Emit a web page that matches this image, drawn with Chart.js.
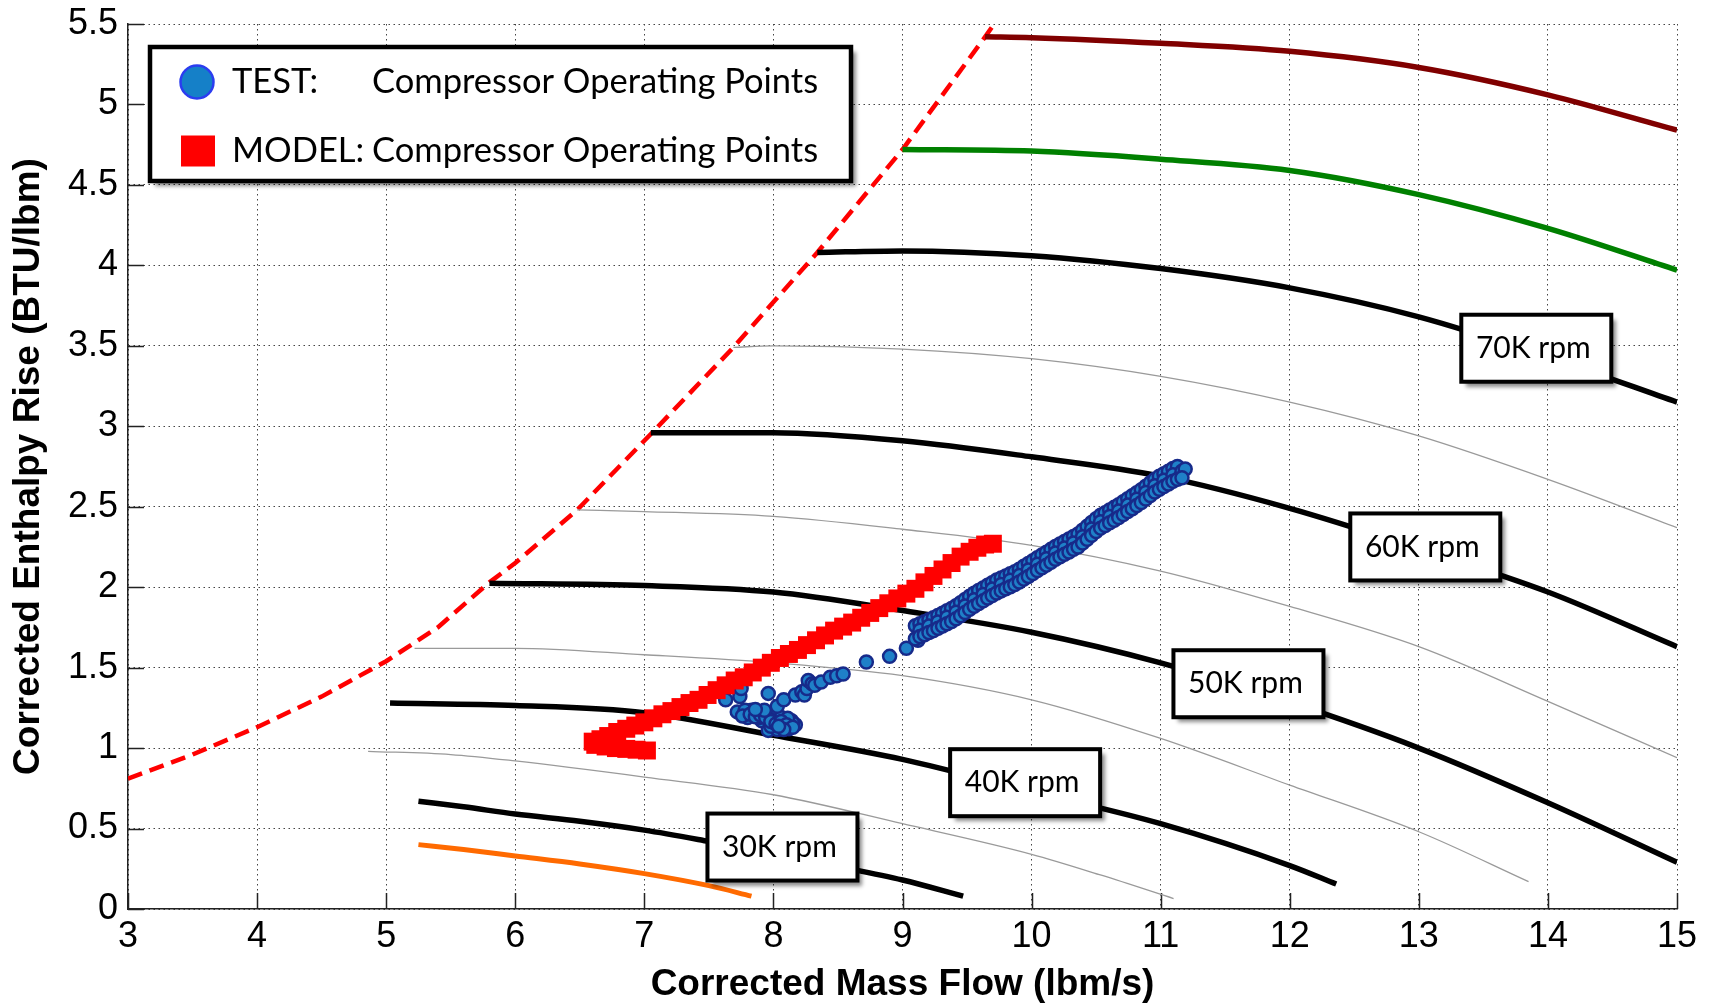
<!DOCTYPE html>
<html>
<head>
<meta charset="utf-8">
<script src="https://cdn.jsdelivr.net/npm/chart.js@4.4.1/dist/chart.umd.min.js"></script>
<style>
  html, body { margin: 0; padding: 0; background: #ffffff; }
  canvas { display: block; }
</style>
</head>
<body>
<canvas id="map" width="1713" height="1003"></canvas>
<script>
// ---- axis ticks ----
const xTicks = [3, 4, 5, 6, 7, 8, 9, 10, 11, 12, 13, 14, 15];
const xTickLabels = ['3', '4', '5', '6', '7', '8', '9', '10', '11', '12', '13', '14', '15'];
const yTicks = [0, 0.5, 1, 1.5, 2, 2.5, 3, 3.5, 4, 4.5, 5, 5.5];
const yTickLabels = ['0', '0.5', '1', '1.5', '2', '2.5', '3', '3.5', '4', '4.5', '5', '5.5'];

// ---- surge line [mass flow, enthalpy rise] ----
const surge = [[3.0, 0.81], [3.5, 0.96], [4.0, 1.13], [4.5, 1.32], [5.0, 1.54], [5.4, 1.75], [5.8, 2.03],
  [6.0, 2.15], [6.48, 2.48], [7.06, 2.96], [7.69, 3.49], [8.34, 4.08], [9.0, 4.72], [9.64, 5.42], [9.71, 5.5]];

// ---- constant speed lines [mass flow, enthalpy rise] ----
const spd25 = [[5.25, 0.40], [5.6, 0.37], [6.0, 0.33], [6.5, 0.28], [7.0, 0.22], [7.5, 0.145], [7.83, 0.08]];
const spd30 = [[5.25, 0.67], [5.6, 0.635], [6.0, 0.59], [6.5, 0.545], [7.0, 0.49], [7.5, 0.42], [8.0, 0.345],
  [8.5, 0.265], [9.0, 0.18], [9.47, 0.08]];
const spd35 = [[4.86, 0.98], [5.5, 0.96], [6.0, 0.92], [7.0, 0.82], [8.0, 0.71], [9.0, 0.53], [10.0, 0.34],
  [10.54, 0.21], [11.1, 0.065]];
const spd40 = [[5.03, 1.28], [6.0, 1.265], [7.0, 1.22], [8.0, 1.08], [9.0, 0.93], [10.0, 0.73], [11.0, 0.53],
  [12.0, 0.27], [12.36, 0.155]];
const spd45 = [[5.22, 1.62], [6.0, 1.62], [7.0, 1.58], [8.0, 1.53], [9.0, 1.45], [10.0, 1.30], [11.0, 1.06],
  [12.0, 0.77], [13.0, 0.48], [13.85, 0.17]];
const spd50 = [[5.8, 2.025], [7.0, 2.01], [8.0, 1.97], [9.0, 1.855], [10.0, 1.72], [11.0, 1.53], [12.0, 1.285],
  [13.0, 1.0], [14.0, 0.66], [15.0, 0.29]];
const spd55 = [[6.48, 2.48], [7.0, 2.47], [8.0, 2.44], [9.0, 2.36], [10.0, 2.26], [11.0, 2.10], [12.0, 1.88],
  [13.0, 1.63], [14.0, 1.29], [15.0, 0.94]];
const spd60 = [[7.05, 2.96], [8.0, 2.96], [9.0, 2.91], [10.0, 2.81], [11.0, 2.69], [12.0, 2.49], [13.0, 2.24],
  [14.0, 1.97], [15.0, 1.63]];
const spd65 = [[7.69, 3.49], [8.0, 3.50], [9.0, 3.48], [10.0, 3.42], [11.0, 3.31], [12.0, 3.15], [13.0, 2.94],
  [14.0, 2.67], [15.0, 2.37]];
const spd70 = [[8.34, 4.08], [9.0, 4.09], [10.0, 4.06], [11.0, 3.98], [12.0, 3.86], [13.0, 3.68], [14.0, 3.43],
  [15.0, 3.15]];
const spd75 = [[9.0, 4.72], [10.0, 4.71], [11.0, 4.66], [12.0, 4.59], [13.0, 4.44], [14.0, 4.23], [15.0, 3.97]];
const spd80 = [[9.64, 5.42], [10.0, 5.415], [11.0, 5.38], [12.0, 5.33], [13.0, 5.23], [14.0, 5.06], [15.0, 4.84]];

// ---- speed line tags: text and box centre [mass flow, enthalpy rise] ----
const speedTags = ['30K rpm', '40K rpm', '50K rpm', '60K rpm', '70K rpm'];
const speedTagAt = [[8.07, 0.385], [9.95, 0.785], [11.68, 1.40], [13.05, 2.25], [13.91, 3.485]];

// ---- measured operating points ----
const testLowFlow = [
  [7.75, 1.215], [7.80, 1.19], [7.83, 1.235], [7.87, 1.21], [7.91, 1.22], [7.91, 1.17], [7.95, 1.20], [7.99, 1.20],
  [8.01, 1.13], [7.96, 1.11], [8.03, 1.17], [8.06, 1.19], [8.09, 1.13], [8.10, 1.16], [8.14, 1.17], [8.17, 1.145],
  [8.13, 1.14], [8.05, 1.15], [7.72, 1.225], [7.78, 1.235], [7.85, 1.225], [7.89, 1.19], [7.93, 1.21], [7.97, 1.18],
  [8.00, 1.16], [8.07, 1.14], [8.12, 1.12], [8.15, 1.155], [8.03, 1.115], [7.98, 1.135], [8.11, 1.185],
  [7.76, 1.20], [7.82, 1.21], [7.86, 1.195], [7.90, 1.205], [7.94, 1.19], [7.98, 1.165], [8.02, 1.15], [8.06, 1.165],
  [8.10, 1.145], [8.15, 1.13], [8.08, 1.115], [8.04, 1.135], [7.93, 1.235], [7.86, 1.24]
];
const testTransition = [
  [7.63, 1.30], [7.74, 1.32], [7.75, 1.37], [7.96, 1.34], [8.03, 1.26], [8.08, 1.30], [8.17, 1.33], [8.22, 1.35],
  [8.24, 1.33], [8.26, 1.37], [8.27, 1.42], [8.30, 1.40], [8.32, 1.39], [8.37, 1.41], [8.44, 1.44], [8.49, 1.45],
  [8.54, 1.46], [8.72, 1.535], [8.90, 1.57], [9.03, 1.62], [9.12, 1.67]
];
const testHighFlow = [
  [9.100, 1.760], [9.135, 1.773], [9.170, 1.785], [9.205, 1.798], [9.240, 1.810], [9.275, 1.824], [9.310, 1.838],
  [9.345, 1.853], [9.380, 1.867], [9.415, 1.884], [9.450, 1.903], [9.485, 1.923], [9.520, 1.943], [9.555, 1.962],
  [9.590, 1.979], [9.625, 1.995], [9.660, 2.012], [9.695, 2.028], [9.730, 2.044], [9.765, 2.057], [9.800, 2.070],
  [9.835, 2.083], [9.870, 2.096], [9.905, 2.112], [9.940, 2.130], [9.975, 2.147], [10.010, 2.165], [10.045, 2.183],
  [10.080, 2.200], [10.115, 2.217], [10.150, 2.235], [10.185, 2.253], [10.220, 2.269], [10.255, 2.284],
  [10.290, 2.299], [10.325, 2.315], [10.360, 2.330], [10.395, 2.354], [10.430, 2.378], [10.465, 2.402],
  [10.500, 2.426], [10.535, 2.447], [10.570, 2.463], [10.605, 2.480], [10.640, 2.496], [10.675, 2.513],
  [10.710, 2.531], [10.745, 2.550], [10.780, 2.568], [10.815, 2.587], [10.850, 2.606], [10.885, 2.628],
  [10.920, 2.649], [10.955, 2.671], [10.990, 2.689], [11.025, 2.705], [11.060, 2.721], [11.095, 2.738],
  [11.130, 2.750],
  [9.135, 1.733], [9.205, 1.758], [9.275, 1.784], [9.345, 1.813], [9.415, 1.844], [9.485, 1.883], [9.555, 1.922],
  [9.625, 1.955], [9.695, 1.988], [9.765, 2.017], [9.835, 2.043], [9.905, 2.072], [9.975, 2.107], [10.045, 2.143],
  [10.115, 2.177], [10.185, 2.213], [10.255, 2.244], [10.325, 2.275], [10.395, 2.314], [10.465, 2.362],
  [10.535, 2.407], [10.605, 2.440], [10.675, 2.473], [10.745, 2.510], [10.815, 2.547], [10.885, 2.588],
  [10.955, 2.631], [11.025, 2.665], [11.095, 2.698], [11.165, 2.720], [11.190, 2.735],
  [9.100, 1.680], [9.135, 1.693], [9.170, 1.705], [9.205, 1.718], [9.240, 1.730], [9.275, 1.744], [9.310, 1.758],
  [9.345, 1.773], [9.380, 1.787], [9.415, 1.804], [9.450, 1.823], [9.485, 1.843], [9.520, 1.863], [9.555, 1.882],
  [9.590, 1.899], [9.625, 1.915], [9.660, 1.932], [9.695, 1.948], [9.730, 1.964], [9.765, 1.977], [9.800, 1.990],
  [9.835, 2.003], [9.870, 2.016], [9.905, 2.032], [9.940, 2.050], [9.975, 2.067], [10.010, 2.085], [10.045, 2.103],
  [10.080, 2.120], [10.115, 2.137], [10.150, 2.155], [10.185, 2.173], [10.220, 2.189], [10.255, 2.204],
  [10.290, 2.219], [10.325, 2.235], [10.360, 2.250], [10.395, 2.274], [10.430, 2.298], [10.465, 2.322],
  [10.500, 2.346], [10.535, 2.367], [10.570, 2.383], [10.605, 2.400], [10.640, 2.416], [10.675, 2.433],
  [10.710, 2.451], [10.745, 2.470], [10.780, 2.488], [10.815, 2.507], [10.850, 2.526], [10.885, 2.548],
  [10.920, 2.569], [10.955, 2.591], [10.990, 2.609], [11.025, 2.625], [11.060, 2.641], [11.095, 2.658],
  [11.130, 2.670], [11.165, 2.680]
];

// ---- model operating points ----
const modelPoints = [
  [6.62, 1.02], [6.70, 1.01], [6.78, 1.00], [6.86, 0.995], [6.94, 0.99], [7.02, 0.985],
  [6.60, 1.040], [6.66, 1.055], [6.72, 1.075], [6.79, 1.100], [6.86, 1.120], [6.93, 1.140], [7.00, 1.160],
  [7.07, 1.185], [7.14, 1.210], [7.21, 1.230], [7.28, 1.255], [7.35, 1.280], [7.42, 1.300], [7.49, 1.330],
  [7.56, 1.360], [7.63, 1.390], [7.70, 1.420], [7.77, 1.440], [7.84, 1.470], [7.91, 1.500], [7.98, 1.530],
  [8.05, 1.560], [8.12, 1.585], [8.19, 1.610], [8.26, 1.640], [8.33, 1.670], [8.40, 1.700], [8.47, 1.730],
  [8.54, 1.755], [8.61, 1.780], [8.68, 1.810], [8.75, 1.840], [8.82, 1.870], [8.89, 1.900], [8.96, 1.930],
  [9.03, 1.960], [9.10, 1.990], [9.17, 2.030], [9.24, 2.070], [9.31, 2.110], [9.38, 2.150], [9.45, 2.190],
  [9.52, 2.220], [9.58, 2.245], [9.64, 2.265], [9.70, 2.270]
];

// ---- legend rows ----
const legendTags = ['TEST:', 'MODEL:'];
const legendText = ['Compressor Operating Points', 'Compressor Operating Points'];

const toXY = arr => arr.map(([x, y]) => ({ x, y }));
const testPoints = [...testLowFlow, ...testTransition, ...testHighFlow];

const SANS = 'Liberation Sans, Arial, Helvetica, sans-serif';
const X_TICK_FONT = { family: SANS, size: 36, lineHeight: 1.2 };
const Y_TICK_FONT = { family: SANS, size: 36, lineHeight: 0.75 };
const TITLE_FONT = { family: SANS, size: 37, weight: 'bold', lineHeight: 1.0 };
const LABEL_FAMILY = 'Lato, "Open Sans", sans-serif';

function speedLine(points, color, width) {
  return {
    data: toXY(points), showLine: true, borderColor: color, borderWidth: width,
    pointRadius: 0, cubicInterpolationMode: 'monotone', fill: false, order: 3
  };
}

// inward tick marks on the left and bottom axes
const inwardTicks = {
  id: 'inwardTicks',
  beforeDatasetsDraw(chart) {
    const { ctx, chartArea: a, scales: { x, y } } = chart;
    ctx.save();
    ctx.strokeStyle = '#222';
    ctx.lineWidth = 1.5;
    ctx.beginPath();
    xTicks.forEach(v => {
      const px = Math.round(x.getPixelForValue(v)) + 0.5;
      ctx.moveTo(px, a.bottom);
      ctx.lineTo(px, a.bottom - 16);
    });
    yTicks.forEach(v => {
      const py = Math.round(y.getPixelForValue(v)) + 0.5;
      ctx.moveTo(a.left, py);
      ctx.lineTo(a.left + 16, py);
    });
    ctx.stroke();
    ctx.restore();
  }
};

function shadowedBox(ctx, l, t, w, h, border) {
  ctx.save();
  ctx.shadowColor = 'rgba(0,0,0,0.45)';
  ctx.shadowBlur = 4;
  ctx.shadowOffsetX = 5;
  ctx.shadowOffsetY = 5;
  ctx.fillStyle = '#ffffff';
  ctx.fillRect(l, t, w, h);
  ctx.restore();
  ctx.save();
  ctx.lineWidth = border;
  ctx.strokeStyle = '#000000';
  ctx.strokeRect(l, t, w, h);
  ctx.restore();
}

// boxed speed tags placed on their lines
const speedTagBoxes = {
  id: 'speedTagBoxes',
  afterDatasetsDraw(chart) {
    const { ctx, scales: { x, y } } = chart;
    const w = 150, h = 67;
    speedTags.forEach((text, i) => {
      const cx = x.getPixelForValue(speedTagAt[i][0]);
      const cy = y.getPixelForValue(speedTagAt[i][1]);
      shadowedBox(ctx, cx - w / 2, cy - h / 2, w, h, 4);
      ctx.save();
      ctx.fillStyle = '#000';
      ctx.font = '30px ' + LABEL_FAMILY;
      ctx.textAlign = 'center';
      ctx.textBaseline = 'middle';
      ctx.fillText(text, cx - 3, cy);
      ctx.restore();
    });
  }
};

// boxed legend in the upper left corner of the plot
const opLegend = {
  id: 'opLegend',
  afterDatasetsDraw(chart) {
    const { ctx, chartArea: a } = chart;
    const L = a.left + 22, T = a.top + 23, W = 701, H = 134;
    shadowedBox(ctx, L, T, W, H, 4.5);
    const rowY = [T + 35, T + 104];
    ctx.save();
    // TEST marker
    ctx.beginPath();
    ctx.arc(L + 47, rowY[0], 16.5, 0, Math.PI * 2);
    ctx.fillStyle = '#1580c8';
    ctx.fill();
    ctx.lineWidth = 2.5;
    ctx.strokeStyle = '#2b3df0';
    ctx.stroke();
    // MODEL marker
    ctx.fillStyle = '#ff0000';
    ctx.fillRect(L + 31, rowY[1] - 15.5, 34, 31);
    ctx.fillStyle = '#000';
    ctx.font = '34.5px ' + LABEL_FAMILY;
    ctx.textBaseline = 'middle';
    ctx.textAlign = 'left';
    legendTags.forEach((tag, i) => {
      ctx.fillText(tag, L + 82, rowY[i]);
      ctx.fillText(legendText[i], L + 222, rowY[i]);
    });
    ctx.restore();
  }
};

new Chart(document.getElementById('map'), {
  type: 'scatter',
  data: {
    datasets: [
      speedLine(spd25, '#ff6a00', 5),
      speedLine(spd30, '#000000', 5.5),
      speedLine(spd35, '#9a9a9a', 1.3),
      speedLine(spd40, '#000000', 5.5),
      speedLine(spd45, '#9a9a9a', 1.3),
      speedLine(spd50, '#000000', 5.5),
      speedLine(spd55, '#9a9a9a', 1.3),
      speedLine(spd60, '#000000', 5.5),
      speedLine(spd65, '#9a9a9a', 1.3),
      speedLine(spd70, '#000000', 5.5),
      speedLine(spd75, '#008000', 5.5),
      speedLine(spd80, '#800000', 5.5),
      {
        data: toXY(surge), showLine: true, borderColor: '#ff0000', borderWidth: 4.5,
        borderDash: [15, 8], pointRadius: 0, tension: 0, order: 3
      },
      {
        label: 'TEST', data: toXY(testPoints), showLine: false, pointStyle: 'circle', pointRadius: 6.5,
        backgroundColor: '#1f80c8', borderColor: '#172a8a', borderWidth: 2.5, order: 2
      },
      {
        label: 'MODEL', data: toXY(modelPoints), showLine: false, pointStyle: 'rect', pointRadius: 12.7,
        backgroundColor: '#ff0000', borderWidth: 0, order: 1
      }
    ]
  },
  options: {
    responsive: false,
    animation: false,
    devicePixelRatio: 1,
    events: [],
    layout: { padding: { top: 24, right: 36, left: 0, bottom: 0 } },
    plugins: { legend: { display: false }, tooltip: { enabled: false } },
    scales: {
      x: {
        type: 'linear', min: 3, max: 15,
        afterBuildTicks: s => { s.ticks = xTicks.map(v => ({ value: v })); },
        afterFit: s => { s.height = 94; },
        ticks: {
          autoSkip: false, maxRotation: 0, padding: 6, color: '#000', font: X_TICK_FONT,
          callback: (v) => xTickLabels[xTicks.indexOf(v)]
        },
        grid: { color: '#444', lineWidth: 1, drawTicks: false },
        border: { display: true, color: '#222', width: 1.5, dash: [1.5, 3.5] },
        title: {
          display: true, text: 'Corrected Mass Flow (lbm/s)', color: '#000',
          font: TITLE_FONT, padding: { top: 0, bottom: 0 }
        }
      },
      y: {
        type: 'linear', min: 0, max: 5.5,
        afterBuildTicks: s => { s.ticks = yTicks.map(v => ({ value: v })); },
        afterFit: s => { s.width = 128; },
        ticks: {
          autoSkip: false, padding: 10, color: '#000', font: Y_TICK_FONT,
          callback: (v) => yTickLabels[yTicks.indexOf(v)]
        },
        grid: { color: '#444', lineWidth: 1, drawTicks: false },
        border: { display: true, color: '#222', width: 1.5, dash: [1.5, 3.5] },
        title: {
          display: true, text: 'Corrected Enthalpy Rise (BTU/lbm)', color: '#000',
          font: TITLE_FONT, padding: { top: 10, bottom: 0 }
        }
      }
    }
  },
  plugins: [inwardTicks, speedTagBoxes, opLegend]
});
</script>
</body>
</html>
